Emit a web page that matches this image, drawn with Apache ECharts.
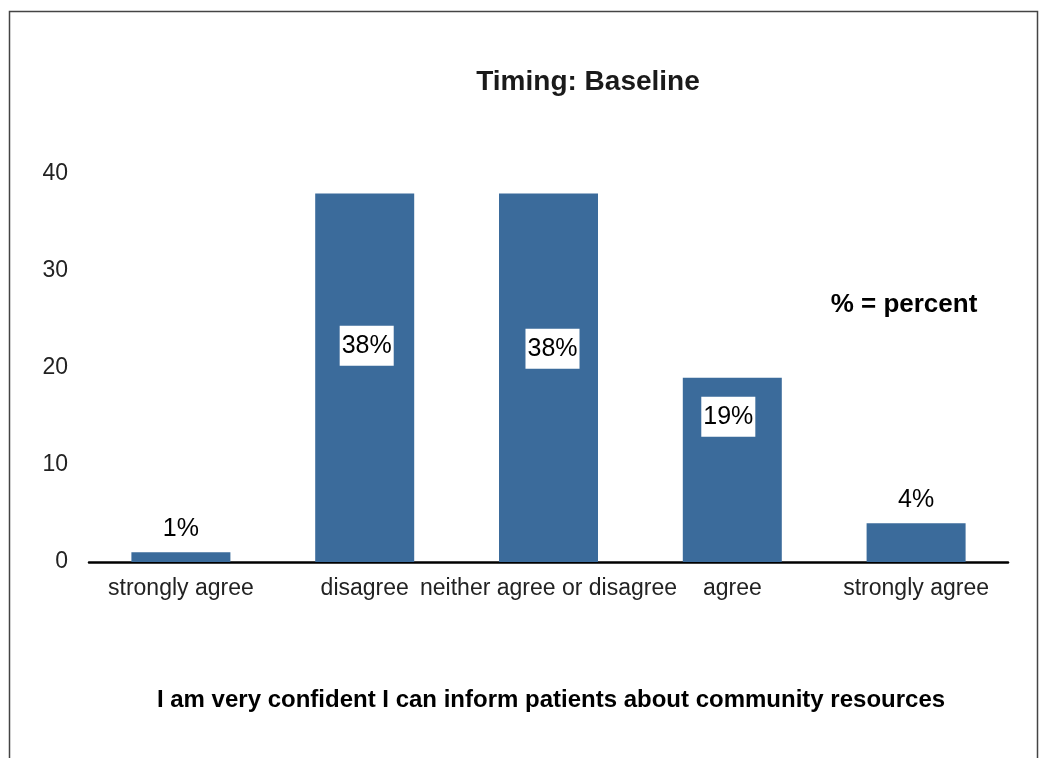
<!DOCTYPE html>
<html>
<head>
<meta charset="utf-8">
<script src="https://cdn.jsdelivr.net/npm/echarts@6/dist/echarts.min.js"></script>
<style>
html,body{margin:0;padding:0;background:#fff;}
#chart{width:1047px;height:758px;}
</style>
</head>
<body>
<div id="chart"></div>
<script>
const categories = ['strongly agree', 'disagree', 'neither agree or disagree', 'agree', 'strongly agree'];
const percentValues = [1, 38, 38, 19, 4];
const yTicks = [0, 10, 20, 30, 40];
const chartTitle = 'Timing: Baseline';
const xTitle = 'I am very confident I can inform patients about community resources';
const noteText = '% = percent';

const FONT = '"Liberation Sans", Arial, Helvetica, sans-serif';
const BAR = '#3b6b9b';

// label placement per bar (inside with white box for tall bars, on top otherwise)
const insideOffsets = {1: [2, -32], 2: [4, -29], 3: [-4, -53]};

const data = percentValues.map((v, i) => {
  const item = { value: v };
  if (insideOffsets[i]) {
    item.label = {
      show: true,
      position: 'inside',
      offset: insideOffsets[i],
      backgroundColor: '#ffffff',
      padding: [8, 2, 7, 2],
      color: '#000',
      fontSize: 25,
      fontFamily: FONT
    };
  } else {
    item.label = {
      show: true,
      position: 'top',
      distance: 11,
      color: '#000',
      fontSize: 25,
      fontFamily: FONT
    };
  }
  return item;
});

const chart = echarts.init(document.getElementById('chart'), null, {renderer: 'canvas'});
chart.setOption({
  backgroundColor: '#ffffff',
  animation: false,
  title: [
    {
      text: chartTitle,
      left: 583, top: 63, textAlign: 'center',
      textStyle: {fontFamily: FONT, fontWeight: 'bold', fontSize: 28, color: '#1a1a1a'}
    },
    {
      text: noteText,
      left: 899, top: 287, textAlign: 'center',
      textStyle: {fontFamily: FONT, fontWeight: 'bold', fontSize: 26, color: '#000'}
    },
    {
      text: xTitle,
      left: 546, top: 683, textAlign: 'center',
      textStyle: {fontFamily: FONT, fontWeight: 'bold', fontSize: 24, color: '#000'}
    }
  ],
  graphic: [
    {
      type: 'rect',
      shape: {x: 9.5, y: 11.5, width: 1028, height: 780},
      style: {fill: 'none', stroke: '#444', lineWidth: 1.5},
      silent: true
    }
  ],
  grid: {left: 89, right: 39, top: 174, bottom: 196, containLabel: false},
  xAxis: {
    type: 'category',
    data: categories,
    axisLine: {show: true, lineStyle: {color: '#000', width: 2.5}},
    axisTick: {show: false},
    axisLabel: {
      interval: 0, margin: 15, color: '#222',
      fontSize: 23, fontFamily: FONT
    },
    splitLine: {show: false}
  },
  yAxis: {
    type: 'value',
    min: yTicks[0], max: yTicks[yTicks.length - 1], interval: 10,
    axisLine: {show: false},
    axisTick: {show: false},
    splitLine: {show: false},
    axisLabel: {
      margin: 21, color: '#222', fontSize: 23, fontFamily: FONT,
      formatter: v => yTicks.includes(v) ? String(v) : ''
    }
  },
  series: [{
    type: 'bar',
    data: data,
    barWidth: 99,
    itemStyle: {color: BAR},
    label: {
      show: true,
      formatter: p => p.value + '%'
    }
  }]
});
</script>
</body>
</html>
